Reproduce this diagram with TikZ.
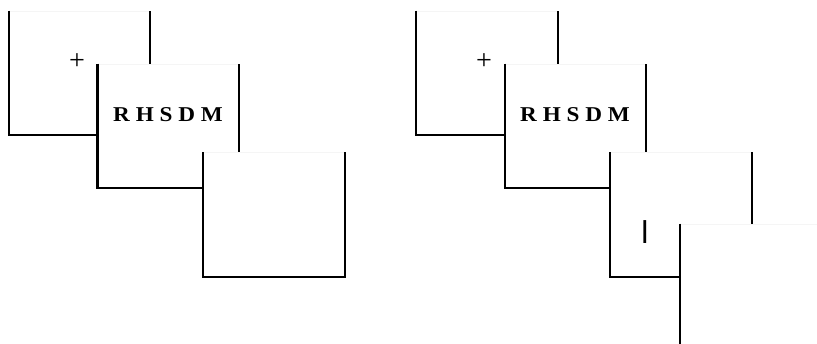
\documentclass[tikz,border=0pt]{standalone}
\usepackage{fontspec}
\setmainfont{Liberation Serif}
\newfontfamily\barfont{Liberation Sans}
\usepackage{tikz}
\usetikzlibrary{positioning}
\tikzset{screen/.style={rectangle,draw=black!4,fill=white,line width=0.6pt,
    minimum width=4.23cm,minimum height=3.72cm,inner sep=0pt},
    sides/.style={line width=1.8pt,line join=miter},
    stim/.style={inner sep=0pt,font=\fontsize{24}{24}\selectfont},
    letters/.style={inner sep=0pt,xscale=1.1,transform shape,font=\fontsize{18}{18}\selectfont\bfseries},
    probe/.style={inner sep=0pt,font=\fontsize{27}{27}\selectfont\barfont}}
\newcommand{\screen}[2]{%
    \node[screen] (#1) at #2 {};
    \draw[sides] (#1.north west) -- (#1.south west) -- (#1.south east) -- (#1.north east);}

\begin{document}
\begin{tikzpicture}[x=0.03cm,y=-0.03cm]
            \useasboundingbox (0,0) rectangle (817,344);
            \clip (0,0) rectangle (817,344);
            % left trial
            \screen{fixA}{(79.5,73)}
            \node[stim] (plusA) at (77,62) {+};
            \screen{arrayA}{(168.3,126)}
            \node[letters] (lettersA) at (168,115) {R H S D M};
            \screen{blankA}{(273.8,214.5)}
            % right trial
            \screen{fixB}{(486.7,73)}
            \node[stim] (plusB) at (484,62) {+};
            \screen{arrayB}{(575.5,126)}
            \node[letters] (lettersB) at (575,115) {R H S D M};
            \screen{blankB}{(681.2,214.5)}
            \node[probe] (barB) at (645,232) {l};
            \screen{respB}{(751.2,286)}
        \end{tikzpicture}
\end{document}
